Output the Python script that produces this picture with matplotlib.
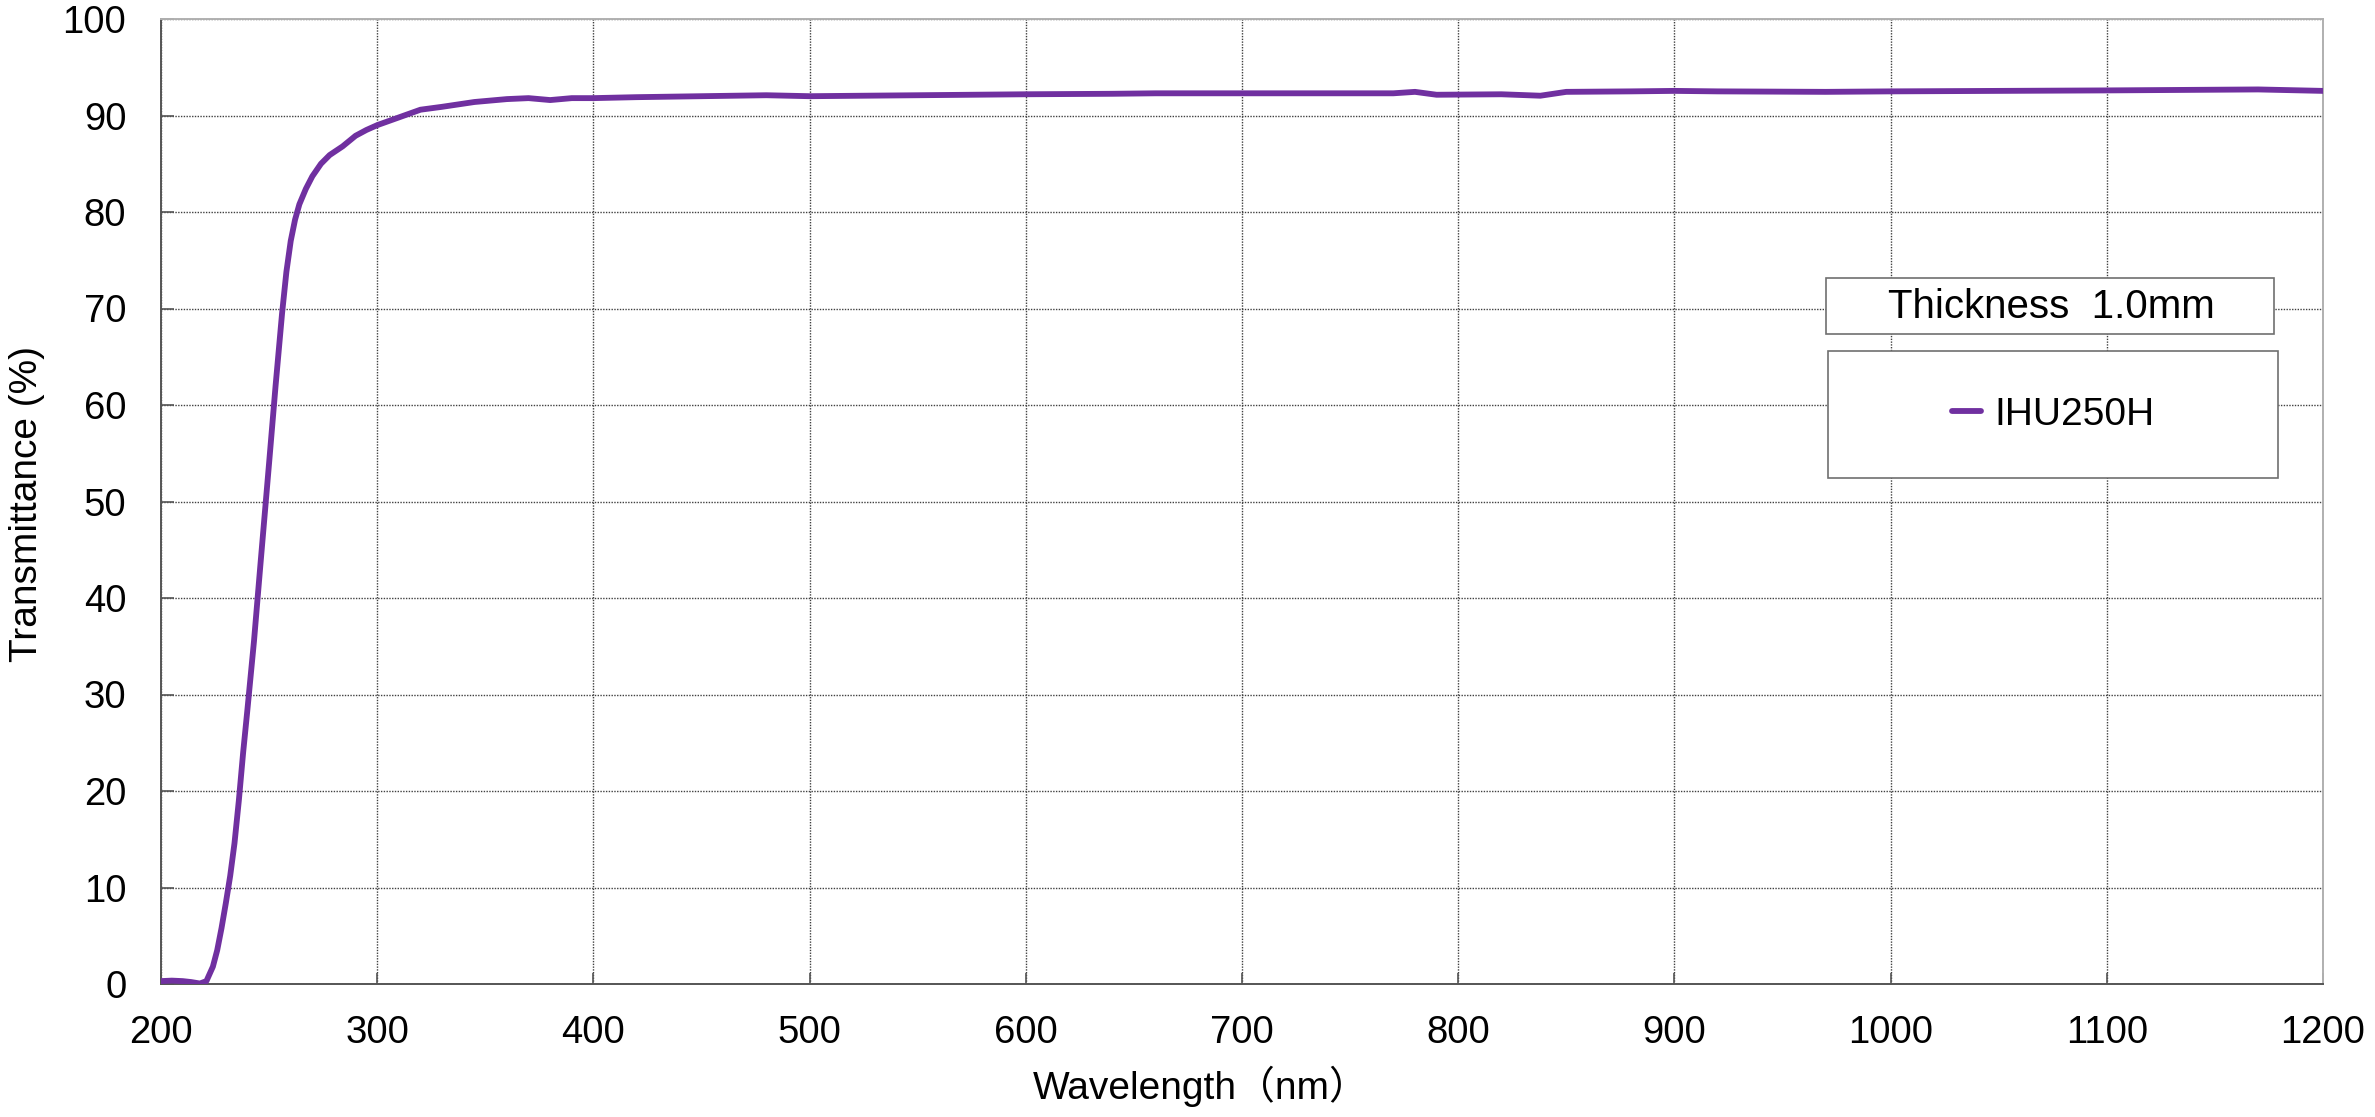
import matplotlib
matplotlib.use("Agg")
import matplotlib.pyplot as plt
from matplotlib.patches import Rectangle
from matplotlib.lines import Line2D

# transmittance curve
wavelength = [200, 205, 210, 214, 218, 221, 224, 226, 228, 230, 232, 234, 236, 238, 240,
              243, 246, 250, 253, 256, 258, 260, 262, 264, 267, 270, 274, 278, 284, 290,
              295, 300, 310, 320, 330, 345, 360, 370, 380, 390, 400, 420, 450, 480, 500,
              550, 600, 640, 660, 700, 740, 770, 780, 790, 820, 838, 850, 880, 900, 920,
              970, 1000, 1050, 1100, 1170, 1200]
transmittance = [0.3, 0.35, 0.3, 0.2, 0.05, 0.3, 1.8, 3.5, 5.8, 8.4, 11.2, 14.6, 19.0, 24.0, 28.5,
                 35.5, 43.5, 54.0, 62.0, 69.5, 73.8, 77.0, 79.2, 80.8, 82.4, 83.7, 85.0, 85.9, 86.8, 87.9,
                 88.5, 89.0, 89.8, 90.6, 90.9, 91.4, 91.7, 91.8, 91.6, 91.8, 91.8, 91.9, 92.0, 92.1, 92.0,
                 92.1, 92.2, 92.25, 92.3, 92.3, 92.3, 92.3, 92.45, 92.15, 92.2, 92.05, 92.45, 92.5, 92.55, 92.5,
                 92.45, 92.5, 92.55, 92.6, 92.7, 92.55]
series_name = "IHU250H"
thickness_note = "Thickness  1.0mm"

x_ticks = list(range(200, 1201, 100))
y_ticks = list(range(0, 101, 10))

W, H = 2375, 1117
fig = plt.figure(figsize=(W / 100, H / 100), dpi=100)
ax = fig.add_axes([161 / W, 1 - 984 / H, (2323 - 161) / W, (984 - 19) / H])

line_color = "#7030A0"
ax.plot(wavelength, transmittance, color=line_color, linewidth=4.2,
        solid_capstyle="round", solid_joinstyle="round", zorder=3)

ax.set_xlim(200, 1200)
ax.set_ylim(0, 100)
ax.set_xticks(x_ticks)
ax.set_yticks(y_ticks)

font = ["Liberation Sans", "Noto Sans CJK JP", "DejaVu Sans"]
for lab in ax.get_xticklabels() + ax.get_yticklabels():
    lab.set_fontfamily(font)
    lab.set_fontsize(27.5)

ax.tick_params(axis="x", direction="in", length=8, width=1.2, color="#555555", pad=22)
ax.tick_params(axis="y", direction="in", length=9, width=1.2, color="#555555", pad=25)

ax.grid(True, color="#404040", linestyle=(0, (1, 1)), linewidth=1.0)
ax.set_axisbelow(True)

for side in ["left", "bottom"]:
    ax.spines[side].set_color("#555555")
    ax.spines[side].set_linewidth(1.4)
for side in ["top", "right"]:
    ax.spines[side].set_color("#B0B0B0")
    ax.spines[side].set_linewidth(1.4)

ax.set_xlabel("Wavelength（nm）", fontsize=28, family=font)
ax.xaxis.set_label_coords((1201 - 161) / 2162, -0.085)
ax.set_ylabel("Transmittance (%)", fontsize=28, family=font)
ax.yaxis.set_label_coords((45 - 161) / 2162, 0.497)

# thickness box
fig.add_artist(Rectangle((1826 / W, 1 - 334 / H), 448 / W, 56 / H, transform=fig.transFigure,
                         facecolor="white", edgecolor="#707070", linewidth=1.2, zorder=4))
fig.text(2051 / W, 1 - 307 / H, thickness_note, ha="center", va="center",
         fontsize=29, family=font, zorder=6)

# legend box
fig.add_artist(Rectangle((1828 / W, 1 - 478 / H), 450 / W, 127 / H, transform=fig.transFigure,
                         facecolor="white", edgecolor="#707070", linewidth=1.2, zorder=4))
handle = Line2D([], [], color=line_color, linewidth=4.2, solid_capstyle="round")
fig.legend([handle], [series_name], loc="center", bbox_to_anchor=(2053 / W, 1 - 415 / H),
           frameon=False, handlelength=0.75, handletextpad=0.35,
           prop={"family": font, "size": 28})

fig.savefig("out.png", dpi=100)
